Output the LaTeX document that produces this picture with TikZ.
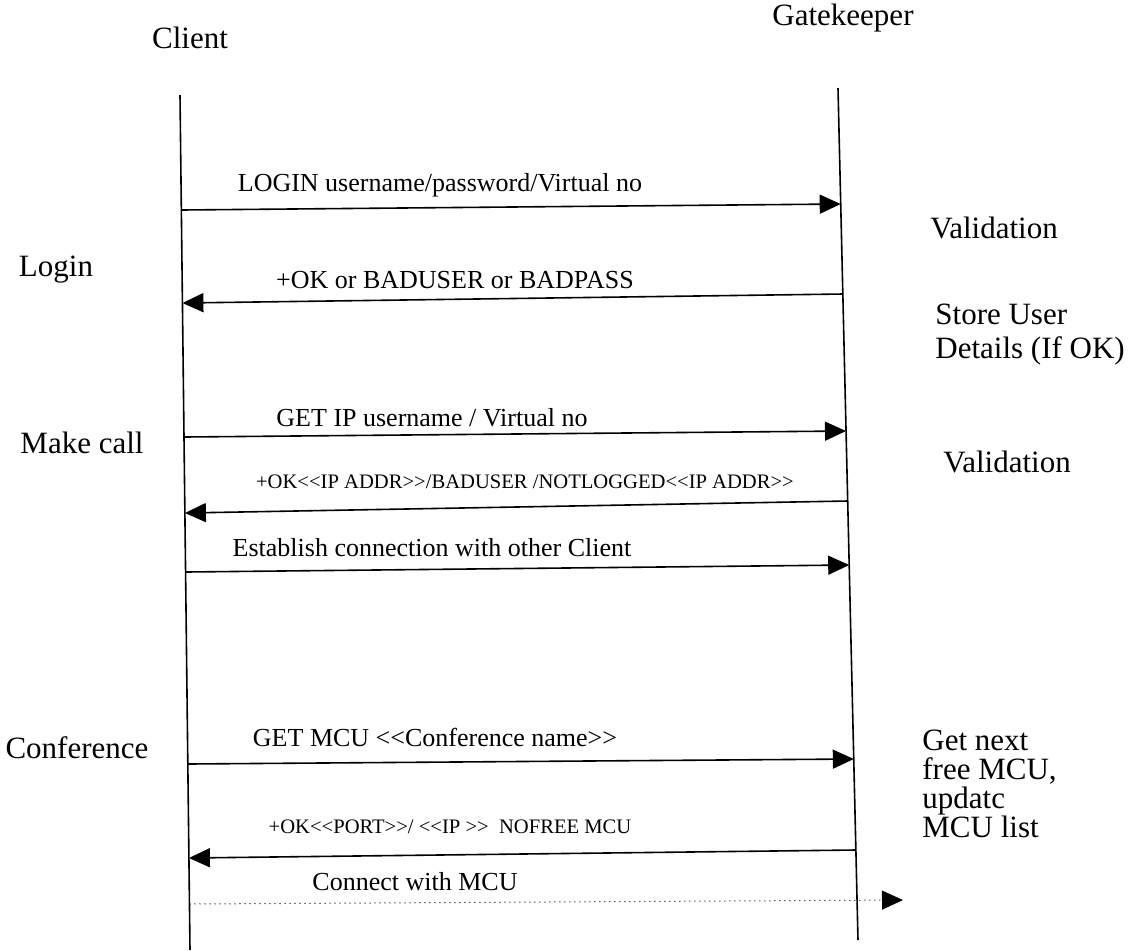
\documentclass[tikz,border=0pt]{standalone}
\usepackage{fontspec}
\setmainfont{Liberation Serif}
\usetikzlibrary{arrows.meta}
\newcommand{\lla}{<\kern0pt<}
\newcommand{\rra}{>\kern0pt>}
\begin{document}
\begin{tikzpicture}[x=0.5pt,y=-0.5pt,
  big/.style={font=\fontsize{15.5}{18}\selectfont, inner sep=0pt},
  side/.style={font=\fontsize{15.5}{17}\selectfont, inner sep=0pt, anchor=west, align=left},
  msg/.style={font=\fontsize{13}{15}\selectfont, inner sep=0pt},
  smallmsg/.style={font=\fontsize{10.3}{12}\selectfont, inner sep=0pt},
  life/.style={line width=0.8pt},
  call/.style={line width=0.8pt, -{Triangle[length=10.5pt,width=9.5pt]}},
  dotcall/.style={line width=0.5pt, dotted, -{Triangle[length=10.5pt,width=9.5pt]}}]
\useasboundingbox (0,0) rectangle (1137,950);
% headings
\node[big] (client) at (190,38) {Client};
\node[big] (gk) at (843,18) {Gatekeeper};
% lifelines
\coordinate (ctop) at (180,95);
\coordinate (cbot) at (190,950);
\coordinate (gtop) at (838,88);
\coordinate (gbot) at (858,940);
\draw[life] (ctop) -- (cbot);
\draw[life] (gtop) -- (gbot);
% message end points
\coordinate (c1) at (181.3,210); \coordinate (g1) at (840.7,204);
\coordinate (g2) at (842.8,294); \coordinate (c2) at (182.4,303);
\coordinate (c3) at (184,437);   \coordinate (g3) at (846,431);
\coordinate (g4) at (847.7,501); \coordinate (c4) at (184.9,513);
\coordinate (c5) at (185.6,572); \coordinate (g5) at (849.2,565);
\coordinate (c6) at (187.9,764); \coordinate (g6) at (853.8,759);
\coordinate (g7) at (855.9,850); \coordinate (c7) at (188.9,858);
\coordinate (c8) at (189.5,904); \coordinate (m8) at (903,900);
% messages
\draw[call] (c1) -- (g1);
\node[msg] (l1) at (440,185) {LOGIN username/password/Virtual no};
\draw[call] (g2) -- (c2);
\node[msg] (l2) at (455,280) {+OK or BADUSER or BADPASS};
\draw[call] (c3) -- (g3);
\node[msg] (l3) at (432,418) {GET IP username / Virtual no};
\draw[call] (g4) -- (c4);
\node[smallmsg] (l4) at (525,482) {+OK\lla IP ADDR\rra/BADUSER /NOTLOGGED\lla IP ADDR\rra};
\draw[call] (c5) -- (g5);
\node[msg] (l5) at (432,548) {Establish connection with other Client};
\draw[call] (c6) -- (g6);
\node[msg] (l6) at (435,737) {GET MCU \lla Conference name\rra};
\draw[call] (g7) -- (c7);
\node[smallmsg] (l7) at (450,827) {+OK\lla PORT\rra/ \lla IP \rra\ \ NOFREE MCU};
\draw[dotcall] (c8) -- (m8);
\node[msg] (l8) at (415,882) {Connect with MCU};
% left phase labels
\node[big] (login) at (56,270) {Login};
\node[big] (make) at (82,443) {Make call};
\node[big] (conf) at (77,748) {Conference};
% right annotations
\node[big] (val1) at (994,228) {Validation};
\node[side] (store) at (935,335) {Store User\\Details (If OK)};
\node[big] (val2) at (1007,462) {Validation};
\node[side, font=\fontsize{15.5}{14.5}\selectfont] (mcu) at (922,784) {Get next\\free MCU,\\updatc\\MCU list};
\end{tikzpicture}
\end{document}
